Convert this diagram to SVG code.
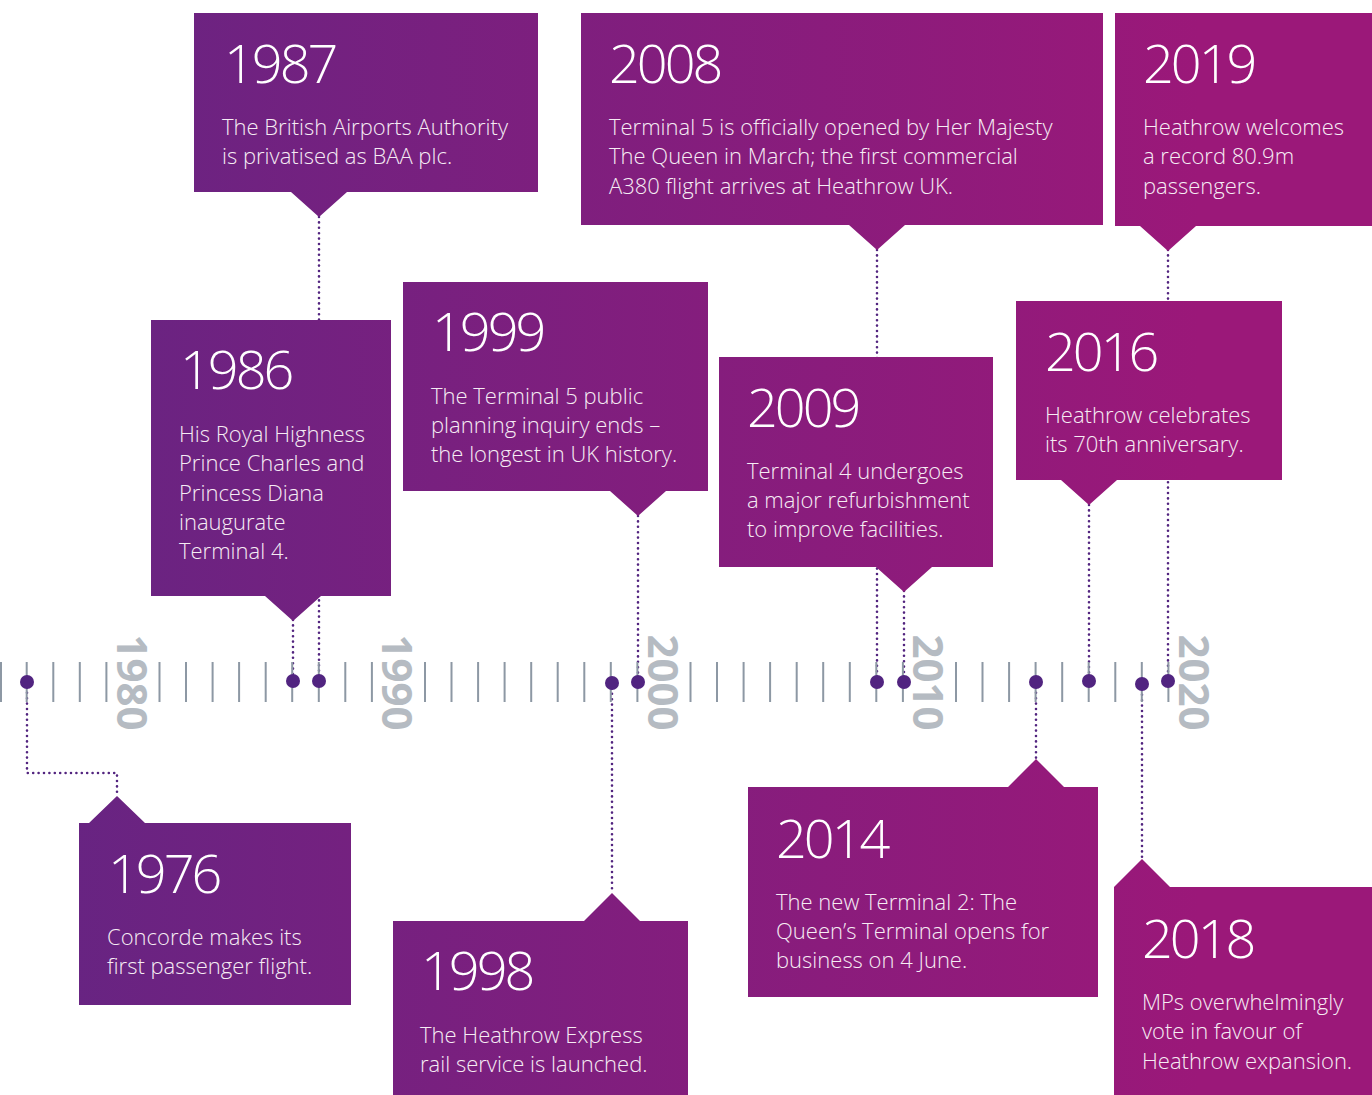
<svg xmlns="http://www.w3.org/2000/svg" width="1372" height="1095" viewBox="0 0 1372 1095">
<style>
.box{fill:url(#grad)}
.yr{font-family:"Open Sans","Liberation Sans",sans-serif;font-weight:300;font-size:54px;fill:#ffffff;letter-spacing:-3px}
.tx{font-family:"Open Sans","Liberation Sans",sans-serif;font-weight:300;font-size:22px;fill:#f6ecf4}
.conn{fill:none;stroke:#52247f;stroke-width:2.6;stroke-linecap:round;stroke-dasharray:0 5.4}
.tick{fill:none;stroke:#8d98a4;stroke-width:2}
.dot{fill:#512480}
.axl{font-family:"Open Sans","Liberation Sans",sans-serif;font-weight:700;font-size:42px;fill:#b5bbc2;text-anchor:middle}
</style>
<defs>
<linearGradient id="grad" gradientUnits="userSpaceOnUse" x1="60" y1="0" x2="1200" y2="0">
<stop offset="0" stop-color="#672482"/>
<stop offset="1" stop-color="#9b1879"/>
</linearGradient>
</defs>
<rect width="1372" height="1095" fill="#ffffff"/>
<g id="connectors">
<path class="conn" d="M27,682 V773 H117 V796"/>
<path class="conn" d="M319,217 V682"/>
<path class="conn" d="M293,620 V682"/>
<path class="conn" d="M638,516 V682"/>
<path class="conn" d="M612,683 V893"/>
<path class="conn" d="M877,250 V682"/>
<path class="conn" d="M904,591 V682"/>
<path class="conn" d="M1036,682 V759"/>
<path class="conn" d="M1089,505 V682"/>
<path class="conn" d="M1168,250 V682"/>
<path class="conn" d="M1142,684 V859"/>
</g>
<g id="axis">
<path class="tick" d="M1,662V702M26.7,662V702M53.3,662V702M79.8,662V702M106.4,662V702M159.5,662V702M186,662V702M212.6,662V702M239.1,662V702M265.7,662V702M292.2,662V702M318.8,662V702M345.3,662V702M371.9,662V702M425,662V702M451.5,662V702M478.1,662V702M504.6,662V702M531.2,662V702M557.7,662V702M584.3,662V702M610.8,662V702M637.4,662V702M690.5,662V702M717,662V702M743.6,662V702M770.1,662V702M796.7,662V702M823.2,662V702M849.8,662V702M876.3,662V702M902.9,662V702M956,662V702M982.5,662V702M1009.1,662V702M1035.6,662V702M1062.2,662V702M1088.7,662V702M1115.3,662V702M1141.8,662V702M1168.4,662V702"/>
<text class="axl" transform="translate(117,682.5) rotate(90)">1980</text>
<text class="axl" transform="translate(382.4,682.5) rotate(90)">1990</text>
<text class="axl" transform="translate(648,682.5) rotate(90)">2000</text>
<text class="axl" transform="translate(913.4,682.5) rotate(90)">2010</text>
<text class="axl" transform="translate(1179,682.5) rotate(90)">2020</text>
<circle class="dot" cx="27" cy="682" r="7"/>
<circle class="dot" cx="293" cy="681" r="7"/>
<circle class="dot" cx="319" cy="681" r="7"/>
<circle class="dot" cx="612" cy="683" r="7"/>
<circle class="dot" cx="638" cy="682" r="7"/>
<circle class="dot" cx="877" cy="682" r="7"/>
<circle class="dot" cx="904" cy="682" r="7"/>
<circle class="dot" cx="1036" cy="682" r="7"/>
<circle class="dot" cx="1089" cy="681" r="7"/>
<circle class="dot" cx="1142" cy="684" r="7"/>
<circle class="dot" cx="1168" cy="681" r="7"/>
</g>
<g id="n1987">
<path class="box" d="M194,13 H538 V192 H347 L319,217 L291,192 H194 Z"/>
<text class="yr" x="224" y="83">1987</text>
<text class="tx" x="222" y="135">The British Airports Authority</text>
<text class="tx" x="222" y="164.3">is privatised as BAA plc.</text>
</g>
<g id="n2008">
<path class="box" d="M581,13 H1103 V225 H905 L877,250 L849,225 H581 Z"/>
<text class="yr" x="609" y="83">2008</text>
<text class="tx" x="609" y="135">Terminal 5 is officially opened by Her Majesty</text>
<text class="tx" x="609" y="164.3">The Queen in March; the first commercial</text>
<text class="tx" x="609" y="193.6">A380 flight arrives at Heathrow UK.</text>
</g>
<g id="n2019">
<path class="box" d="M1115,13 H1372 V226 H1196 L1168,251 L1140,226 H1115 Z"/>
<text class="yr" x="1143" y="83">2019</text>
<text class="tx" x="1143" y="135">Heathrow welcomes</text>
<text class="tx" x="1143" y="164.3">a record 80.9m</text>
<text class="tx" x="1143" y="193.6">passengers.</text>
</g>
<g id="n1986">
<path class="box" d="M151,320 H391 V596 H321 L293,621 L265,596 H151 Z"/>
<text class="yr" x="180" y="389">1986</text>
<text class="tx" x="179" y="442">His Royal Highness</text>
<text class="tx" x="179" y="471.3">Prince Charles and</text>
<text class="tx" x="179" y="500.6">Princess Diana</text>
<text class="tx" x="179" y="529.9">inaugurate</text>
<text class="tx" x="179" y="559.2">Terminal 4.</text>
</g>
<g id="n1999">
<path class="box" d="M403,282 H708 V491 H666 L638,516 L610,491 H403 Z"/>
<text class="yr" x="432" y="351">1999</text>
<text class="tx" x="431" y="403.5">The Terminal 5 public</text>
<text class="tx" x="431" y="432.8">planning inquiry ends –</text>
<text class="tx" x="431" y="462.1">the longest in UK history.</text>
</g>
<g id="n2009">
<path class="box" d="M719,357 H993 V567 H932 L904,592 L876,567 H719 Z"/>
<text class="yr" x="747" y="427">2009</text>
<text class="tx" x="747" y="478.5">Terminal 4 undergoes</text>
<text class="tx" x="747" y="507.8">a major refurbishment</text>
<text class="tx" x="747" y="537.1">to improve facilities.</text>
</g>
<g id="n2016">
<path class="box" d="M1016,301 H1282 V480 H1117 L1089,505 L1061,480 H1016 Z"/>
<text class="yr" x="1045" y="371">2016</text>
<text class="tx" x="1045" y="423">Heathrow celebrates</text>
<text class="tx" x="1045" y="452.3">its 70th anniversary.</text>
</g>
<g id="n1976">
<path class="box" d="M79,823 H89 L117,796 L145,823 H351 V1005 H79 Z"/>
<text class="yr" x="108" y="893">1976</text>
<text class="tx" x="107" y="945">Concorde makes its</text>
<text class="tx" x="107" y="974.3">first passenger flight.</text>
</g>
<g id="n1998">
<path class="box" d="M393,921 H584 L612,893 L640,921 H688 V1095 H393 Z"/>
<text class="yr" x="421" y="990">1998</text>
<text class="tx" x="420" y="1043">The Heathrow Express</text>
<text class="tx" x="420" y="1072.3">rail service is launched.</text>
</g>
<g id="n2014">
<path class="box" d="M748,787 H1008 L1036,759 L1064,787 H1098 V997 H748 Z"/>
<text class="yr" x="776" y="858">2014</text>
<text class="tx" x="776" y="909.5">The new Terminal 2: The</text>
<text class="tx" x="776" y="938.8">Queen’s Terminal opens for</text>
<text class="tx" x="776" y="968.1">business on 4 June.</text>
</g>
<g id="n2018">
<path class="box" d="M1114,887 L1142,859 L1170,887 H1372 V1095 H1114 Z"/>
<text class="yr" x="1142" y="958">2018</text>
<text class="tx" x="1142" y="1010">MPs overwhelmingly</text>
<text class="tx" x="1142" y="1039.3">vote in favour of</text>
<text class="tx" x="1142" y="1068.6">Heathrow expansion.</text>
</g>
</svg>
